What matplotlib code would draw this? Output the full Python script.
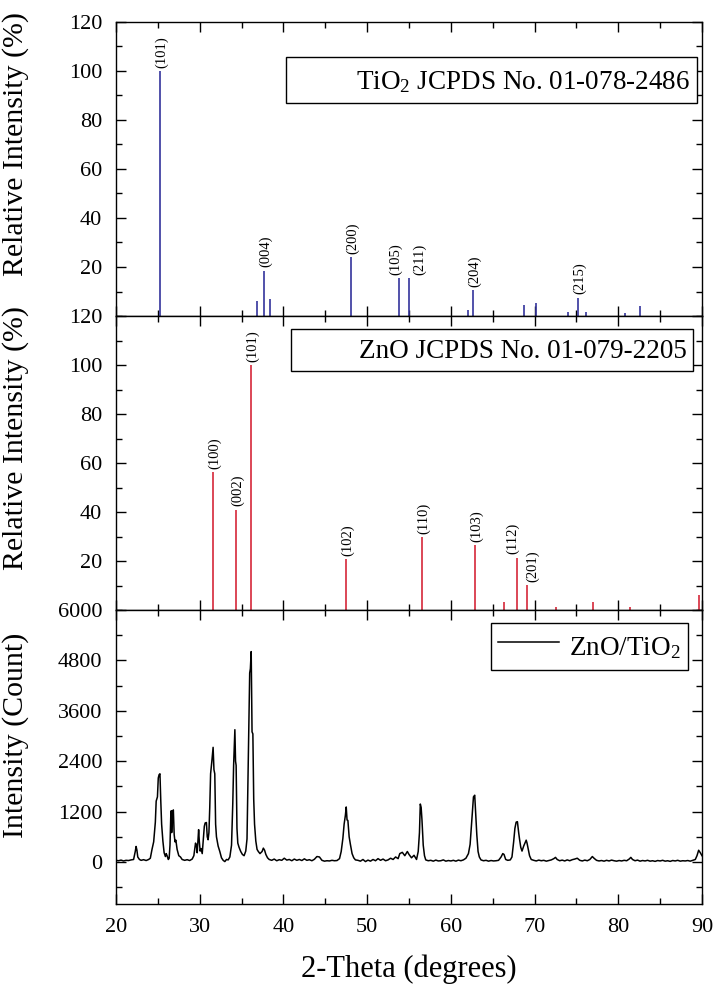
import matplotlib
matplotlib.use("Agg")
import matplotlib.pyplot as plt
from matplotlib.lines import Line2D
from matplotlib.ticker import MultipleLocator

# ---------------- data ----------------
tio2_pos = [25.26, 36.88, 37.65, 38.40, 48.04, 53.85, 54.97, 62.10, 62.69,
            68.75, 70.14, 74.00, 75.16, 76.09, 80.80, 82.60]
tio2_int = [100, 6, 18.5, 7, 24, 15.5, 15.5, 2.4, 10.6,
            4.5, 5.3, 1.5, 7.4, 1.5, 1.2, 4]
tio2_hkl = {25.26: "(101)", 37.65: "(004)", 48.04: "(200)", 53.85: "(105)",
            54.97: "(211)", 62.69: "(204)", 75.16: "(215)"}

zno_pos = [31.62, 34.30, 36.17, 47.48, 56.56, 62.93, 66.32, 67.95, 69.10,
           72.53, 76.95, 81.41, 89.69]
zno_int = [56.3, 41, 100, 20.8, 29.6, 26.5, 3.3, 21.4, 10.1,
           1.4, 3.3, 1.4, 6]
zno_hkl = {31.62: "(100)", 34.30: "(002)", 36.17: "(101)", 47.48: "(102)",
           56.56: "(110)", 62.93: "(103)", 67.95: "(112)", 69.10: "(201)"}

two_theta = [
    20.0, 20.3, 20.6, 20.9, 21.2, 21.5, 21.8, 22.1, 22.3, 22.4, 22.5, 22.6, 22.8,
    23.0, 23.3, 23.6, 23.9, 24.1, 24.3, 24.5, 24.7, 24.8, 24.95, 25.05, 25.15,
    25.25, 25.35, 25.45, 25.6, 25.75, 25.9, 26.0, 26.1, 26.25, 26.35, 26.45,
    26.55, 26.6, 26.65, 26.75, 26.85, 26.95, 27.05, 27.15, 27.3, 27.5, 27.7,
    27.9, 28.2, 28.5, 28.8, 29.1, 29.3, 29.5, 29.6, 29.7, 29.8, 29.87, 29.95,
    30.05, 30.15, 30.3, 30.45, 30.55, 30.65, 30.8, 30.9, 31.0, 31.1, 31.2, 31.3,
    31.45, 31.6, 31.7, 31.8, 31.9, 32.0, 32.2, 32.4, 32.6, 32.8, 33.0, 33.2,
    33.4, 33.6, 33.8, 33.95, 34.05, 34.15, 34.2, 34.28, 34.35, 34.45, 34.55,
    34.7, 34.9, 35.1, 35.3, 35.5, 35.65, 35.8, 35.9, 35.97, 36.05, 36.15, 36.25,
    36.35, 36.45, 36.55, 36.7, 36.85, 37.0, 37.2, 37.45, 37.6, 37.75, 37.9,
    38.1, 38.3, 38.6, 38.9, 39.2, 39.5, 39.8, 40.1, 40.4, 40.7, 41.0, 41.3,
    41.6, 41.9, 42.2, 42.5, 42.8, 43.1, 43.4, 43.7, 44.0, 44.3, 44.6, 44.9,
    45.2, 45.5, 45.8, 46.1, 46.4, 46.7, 46.9, 47.1, 47.25, 47.4, 47.5, 47.6,
    47.7, 47.85, 48.0, 48.2, 48.4, 48.6, 48.9, 49.2, 49.5, 49.8, 50.1, 50.4,
    50.7, 51.0, 51.3, 51.6, 51.9, 52.2, 52.5, 52.8, 53.1, 53.4, 53.7, 53.9,
    54.2, 54.5, 54.8, 55.0, 55.3, 55.6, 55.9, 56.1, 56.25, 56.35, 56.45, 56.55,
    56.7, 56.85, 57.0, 57.3, 57.6, 57.9, 58.2, 58.5, 58.8, 59.1, 59.4, 59.7,
    60.0, 60.3, 60.6, 60.9, 61.2, 61.5, 61.8, 62.1, 62.3, 62.45, 62.6, 62.7,
    62.85, 62.95, 63.1, 63.25, 63.4, 63.6, 63.9, 64.2, 64.5, 64.8, 65.1, 65.4,
    65.7, 66.0, 66.2, 66.35, 66.55, 66.8, 67.1, 67.3, 67.5, 67.65, 67.8, 67.95,
    68.1, 68.2, 68.35, 68.5, 68.7, 68.85, 69.0, 69.1, 69.25, 69.4, 69.6, 69.9,
    70.2, 70.5, 70.8, 71.1, 71.4, 71.7, 72.0, 72.3, 72.5, 72.7, 73.0, 73.3,
    73.6, 73.9, 74.2, 74.5, 74.8, 75.1, 75.4, 75.7, 76.0, 76.3, 76.6, 76.9,
    77.1, 77.4, 77.7, 78.0, 78.3, 78.6, 78.9, 79.2, 79.5, 79.8, 80.1, 80.4,
    80.7, 81.0, 81.3, 81.5, 81.7, 82.0, 82.3, 82.6, 82.9, 83.2, 83.5, 83.8,
    84.1, 84.4, 84.7, 85.0, 85.3, 85.6, 85.9, 86.2, 86.5, 86.8, 87.1, 87.4,
    87.7, 88.0, 88.3, 88.6, 88.9, 89.2, 89.4, 89.6, 89.8, 90.0]
counts = [
    40, 30, 45, 25, 40, 35, 50, 60, 250, 370, 280, 120, 60,
    40, 55, 35, 60, 90, 300, 480, 950, 1450, 1550, 2000, 2080,
    2100, 1450, 900, 500, 220, 130, 200, 150, 60, 90, 400,
    1150, 1220, 700, 1200, 1240, 650, 480, 520, 300, 150, 120,
    60, 40, 55, 35, 70, 150, 450, 400, 220, 560, 770, 500,
    260, 320, 200, 600, 850, 930, 940, 600, 530, 700, 1300, 2100,
    2400, 2730, 2200, 2100, 900, 600, 380, 250, 100, 40, 10, 60,
    50, 120, 400, 1400, 2300, 2900, 3150, 2400, 2300, 800, 450,
    350, 250, 180, 150, 260, 550, 2400, 3600, 4500, 4600, 5010, 3100,
    3050, 1500, 900, 500, 300, 250, 200, 250, 330, 280, 180,
    100, 60, 40, 70, 30, 55, 40, 90, 45, 60, 30, 70,
    40, 60, 35, 75, 40, 55, 30, 65, 130, 120, 40, 20,
    30, 25, 40, 30, 35, 80, 250, 560, 900, 1110, 1310, 1000,
    990, 600, 420, 200, 100, 50, 40, 20, 60, 10, 45, 20,
    60, 30, 80, 40, 70, 30, 50, 90, 60, 120, 80, 200,
    230, 150, 250, 180, 100, 160, 60, 250, 700, 1380, 1300, 1000,
    400, 150, 50, 30, 40, 20, 45, 25, 30, 50, 20, 35,
    25, 40, 20, 45, 30, 50, 90, 200, 420, 850, 1300, 1550,
    1590, 1200, 650, 250, 120, 50, 30, 40, 20, 35, 25, 30,
    40, 120, 200, 180, 60, 40, 50, 120, 480, 800, 950, 960,
    700, 550, 350, 260, 380, 450, 520, 450, 300, 150, 60, 40,
    25, 45, 30, 40, 20, 35, 50, 80, 110, 60, 30, 45,
    25, 50, 30, 55, 70, 90, 40, 25, 45, 30, 60, 130,
    90, 40, 25, 35, 20, 40, 25, 45, 30, 20, 35, 25,
    40, 30, 70, 110, 60, 30, 45, 20, 35, 25, 40, 20,
    30, 15, 35, 25, 40, 20, 30, 15, 35, 25, 40, 20,
    30, 25, 35, 20, 40, 60, 150, 280, 220, 150]

tio2_legend = "TiO$_2$ JCPDS No. 01-078-2486"
zno_legend = "ZnO JCPDS No. 01-079-2205"
sample_legend = "ZnO/TiO$_2$"

# ---------------- style ----------------
plt.rcParams['font.family'] = ['Liberation Serif', 'DejaVu Serif']
plt.rcParams['mathtext.default'] = 'regular'
plt.rcParams['axes.linewidth'] = 1.0

BLUE = '#34349c'
RED = '#d62839'
TICK_FS = 16
LABEL_FS = 21.5
LEG_FS = 19.5
HKL_FS = 10.5

fig = plt.figure(figsize=(7.16, 9.91), dpi=100)
L, W, H = 116/716, 586/716, 294/991
ax_top = fig.add_axes([L, 1-316/991, W, H])
ax_mid = fig.add_axes([L, 1-610/991, W, H], sharex=ax_top)
ax_bot = fig.add_axes([L, 1-904/991, W, H], sharex=ax_top)

for ax in (ax_top, ax_mid, ax_bot):
    ax.tick_params(which='both', direction='in', top=True, right=True,
                   labelsize=TICK_FS, width=1.0)
    ax.tick_params(which='major', length=7, pad=10)
    ax.tick_params(which='minor', length=4)
    ax.xaxis.set_major_locator(MultipleLocator(10))
    ax.xaxis.set_minor_locator(MultipleLocator(5))
ax_top.set_xlim(20, 90)
ax_top.tick_params(labelbottom=False)
ax_mid.tick_params(labelbottom=False)

# top: TiO2 reference
tio2_nudge = {53.85: -2.5, 54.97: 7.5}
ax_top.vlines(tio2_pos, 0, tio2_int, color=BLUE, lw=1.2)
ax_top.set_ylim(0, 120)
ax_top.set_yticks([20, 40, 60, 80, 100, 120])
ax_top.yaxis.set_minor_locator(MultipleLocator(10))
for x, h in zip(tio2_pos, tio2_int):
    if x in tio2_hkl:
        ax_top.annotate(tio2_hkl[x], xy=(x, h),
                        xytext=(tio2_nudge.get(x, 1.2), 2.5),
                        textcoords='offset points', rotation=90,
                        ha='center', va='bottom', fontsize=HKL_FS)

# middle: ZnO reference
zno_nudge = {67.95: -3.5, 69.10: 4.0}
ax_mid.vlines(zno_pos, 0, zno_int, color=RED, lw=1.2)
ax_mid.set_ylim(0, 120)
ax_mid.set_yticks([20, 40, 60, 80, 100, 120])
ax_mid.yaxis.set_minor_locator(MultipleLocator(10))
for x, h in zip(zno_pos, zno_int):
    if x in zno_hkl:
        ax_mid.annotate(zno_hkl[x], xy=(x, h),
                        xytext=(zno_nudge.get(x, 1.2), 2.5),
                        textcoords='offset points', rotation=90,
                        ha='center', va='bottom', fontsize=HKL_FS)

# bottom: measured pattern
ax_bot.plot(two_theta, counts, color='black', lw=1.1)
ax_bot.set_ylim(-1000, 6000)
ax_bot.set_yticks([0, 1200, 2400, 3600, 4800, 6000])
ax_bot.yaxis.set_minor_locator(MultipleLocator(600))

for ax, lab, yc in ((ax_top, 'Relative Intensity (%)', 0.585),
                    (ax_mid, 'Relative Intensity (%)', 0.585),
                    (ax_bot, 'Intensity (Count)', 0.575)):
    ax.set_ylabel(lab, fontsize=LABEL_FS)
    ax.yaxis.set_label_coords(-0.149, yc)
ax_bot.set_xlabel('2-Theta (degrees)', fontsize=22, labelpad=13)

blank = Line2D([], [], color='none')
leg_kw = dict(loc='upper right', fontsize=LEG_FS, frameon=True, fancybox=False,
              edgecolor='black', borderaxespad=0, borderpad=0.25,
              handletextpad=0.4, framealpha=1)
lg = ax_top.legend([blank], [tio2_legend], bbox_to_anchor=(0.991, 0.881),
                   handlelength=1.95, handleheight=1.45, **leg_kw)
lg.get_frame().set_linewidth(1.0)
lg = ax_mid.legend([blank], [zno_legend], bbox_to_anchor=(0.985, 0.956),
                   handlelength=1.85, handleheight=1.15, **leg_kw)
lg.get_frame().set_linewidth(1.0)
lg = ax_bot.legend([Line2D([], [], color='black', lw=1.1)], [sample_legend],
                   bbox_to_anchor=(0.976, 0.957), handlelength=2.25,
                   handleheight=1.55, **leg_kw)
lg.get_frame().set_linewidth(1.0)

fig.savefig('out.png', dpi=100)
